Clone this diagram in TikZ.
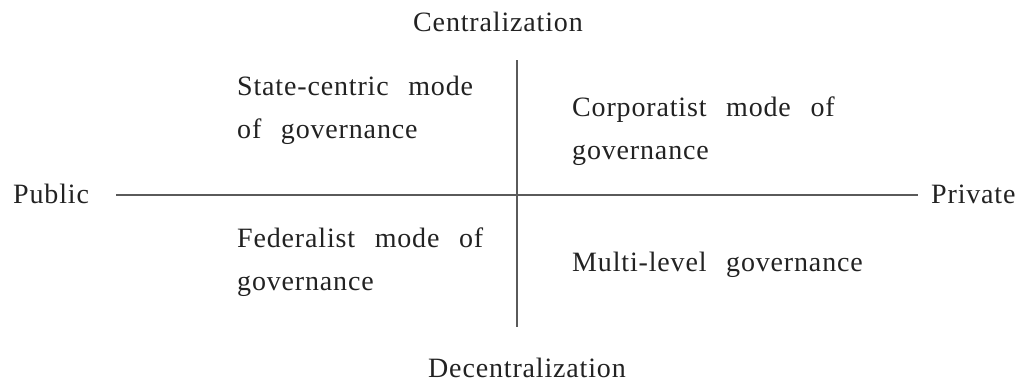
\documentclass[tikz,border=0pt]{standalone}
\usepackage{fontspec}
\setmainfont{Liberation Serif}[LetterSpace=3,WordSpace=2.5]
\usepackage{xcolor}
\usepackage{tikz}
\usetikzlibrary{calc}

\definecolor{axisgray}{HTML}{5A5A5A}
\definecolor{labelgray}{HTML}{222222}

\begin{document}
\begin{tikzpicture}[x=1pt,y=-1pt]
        % Define the styles for the axis and the quadrant labels
        \tikzstyle{axis line}=[draw=axisgray, line width=1.5pt];
        \tikzstyle{pole}=[inner sep=0pt, text=labelgray, font=\fontsize{28}{43}\selectfont];
        \tikzstyle{quadrant}=[pole, align=left, anchor=base west];
        
        % Fix the size of the canvas
        \useasboundingbox (0,0) rectangle (1024,383);
        
        % Define the end points of the two axes
        \coordinate (W) at (116,195);
        \coordinate (E) at (918,195);
        \coordinate (N) at (517,60);
        \coordinate (S) at (517,327);
        
        % Draw the two axes
        \draw[axis line] (W) -- (E);
        \draw[axis line] (N) -- (S);
        
        % Labels at the ends of the axes
        \node[pole, anchor=base] (Central) at (498,31) {Centralization};
        \node[pole, anchor=base] (Decentral) at (527,377) {Decentralization};
        \node[pole, anchor=base west] (Public) at (13,203) {Public};
        \node[pole, anchor=base west] (Private) at (931,203) {Private};
        
        % Label the four modes of governance (base = last line)
        \node[quadrant] (StateCentric) at (237,138) {State-centric mode\\of governance};
        \node[quadrant] (Corporatist) at (572,159) {Corporatist mode of\\governance};
        \node[quadrant] (Federalist) at (237,290) {Federalist mode of\\governance};
        \node[quadrant] (MultiLevel) at (572,271) {Multi-level governance};
    \end{tikzpicture}
\end{document}
